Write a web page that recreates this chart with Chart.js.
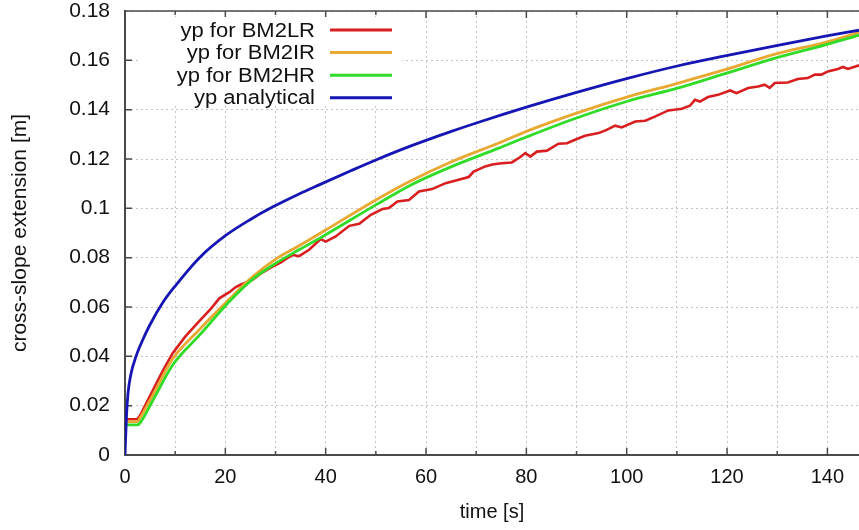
<!DOCTYPE html>
<html>
<head>
<meta charset="utf-8">
<script src="https://cdn.jsdelivr.net/npm/chart.js@4"></script>
<style>
  html, body { margin: 0; padding: 0; background: #fff; }
  #wrap { width: 859px; height: 530px; }
</style>
</head>
<body>
<div id="wrap"><canvas id="chart" width="859" height="530"></canvas></div>
<script>
// ============ DATA ============
const timeLR = [0, 2.5, 3, 5.6, 7.5, 9.5, 12, 14.9, 17, 18.8, 20.8, 22, 23, 25.4, 27, 29.4, 31, 32.1, 33.4, 34.7,
    36.7, 39, 40, 42, 44.7, 46.7, 49, 51.3, 52.6, 54.3, 56.6, 58.6, 61.2, 63.9, 66.5, 68.5, 69.5, 71.8, 73.2, 75.1,
    77.1, 78.8, 79.8, 80.8, 82.1, 84.1, 86.4, 88.1, 89.7, 91.7, 94.4, 96, 97.7, 99, 101.7, 103.7, 105.6, 108.3, 110.3, 111,
    112.6, 113.6, 114.6, 116.2, 118.2, 120.6, 121.9, 124.2, 126.2, 127.5, 128.5, 129.5, 132.1, 134.1, 136.1, 137.5, 138.8, 140.1, 142.1, 143.1,
    144.1, 146.3];
const yLR = [0.0145, 0.0146, 0.016, 0.0264, 0.034, 0.0413, 0.048, 0.0545, 0.059, 0.0635, 0.066, 0.068, 0.069, 0.071, 0.0735, 0.0764, 0.078, 0.0795, 0.0811, 0.0806,
    0.0832, 0.0875, 0.0865, 0.0886, 0.0929, 0.0937, 0.0974, 0.0997, 0.1001, 0.1028, 0.1034, 0.1068, 0.1078, 0.1102, 0.1116, 0.1127, 0.1149, 0.117, 0.1178, 0.1183,
    0.1186, 0.1208, 0.1224, 0.121, 0.123, 0.1234, 0.1262, 0.1264, 0.1278, 0.1294, 0.1305, 0.1318, 0.1335, 0.1328, 0.1352, 0.1355, 0.1372, 0.1397, 0.1402, 0.1404,
    0.1416, 0.144, 0.1433, 0.1451, 0.146, 0.1478, 0.1467, 0.1488, 0.1494, 0.1501, 0.1488, 0.1508, 0.151, 0.1524, 0.1528, 0.1542, 0.1542, 0.1555, 0.1565, 0.1573,
    0.1565, 0.158];

const timeIR = [0, 2.5, 3, 5.6, 9.5, 14.9, 20.8, 25.4, 30.1, 34.7, 40, 50, 57, 65.2, 74.5, 80, 90, 100, 110.3, 119.6, 129.6, 139.6, 146.3];
const yIR = [0.0135, 0.0135, 0.015, 0.0245, 0.039, 0.051, 0.0632, 0.0722, 0.0795, 0.0848, 0.0912, 0.1034, 0.1112, 0.119, 0.1265, 0.1312, 0.1386, 0.1451, 0.1508, 0.1562, 0.1625, 0.1673, 0.1713];

const timeHR = [0, 2.5, 3, 5.6, 9.5, 14.9, 20.8, 25.4, 30.1, 34.7, 40, 50, 57, 65.2, 74.5, 80, 90, 100, 110.3, 119.6, 129.6, 139.6, 146.3];
const yHR = [0.0122, 0.0122, 0.013, 0.0223, 0.0365, 0.0487, 0.0622, 0.0712, 0.0778, 0.0832, 0.0893, 0.1014, 0.1095, 0.117, 0.1244, 0.1289, 0.1366, 0.1433, 0.1488, 0.1546, 0.1609, 0.1663, 0.1702];

const timeAn = [0, 0.3, 0.6, 1.1, 2.3, 3.5, 4.9, 7.6, 10, 14.85, 20.2, 25, 29.4, 34.7, 38.7, 45, 50, 57, 65.2, 70.5, 80, 90, 100, 110.3, 119.6, 129.6, 139.6, 146.3];
const yAn = [0, 0.016, 0.025, 0.032, 0.0406, 0.0465, 0.0525, 0.062, 0.0685, 0.080, 0.0892, 0.0955, 0.1005, 0.1058, 0.1095, 0.1152, 0.1196, 0.1253, 0.1313, 0.1349, 0.141, 0.147, 0.1526, 0.1578, 0.1618, 0.1659, 0.1698, 0.1722];

const seriesNames = ["yp for BM2LR", "yp for BM2IR", "yp for BM2HR", "yp analytical"];
const seriesColors = ["#d81e1e", "#e8a832", "#30dc28", "#1616b4"];

const xMin = 0, xMax = 146.3, xStep = 10, xLabelStep = 20;
const yMin = 0, yMax = 0.18, yStep = 0.02;

const FONT = "'Liberation Sans', Arial, Helvetica, sans-serif";

function zip(ts, ys) {
    return ts.map((t, i) => ({ x: t, y: ys[i] }));
}

const isMultiple = (v, step) => Math.abs(v / step - Math.round(v / step)) < 1e-6;

// ============ FRAME + INWARD TICKS (gnuplot look) ============
const frameTicks = {
    id: "frameTicks",
    beforeDatasetsDraw(chart) {
        const { ctx, chartArea: a, scales: { x, y } } = chart;
        ctx.save();
        ctx.strokeStyle = "#4a4a4a";
        ctx.lineWidth = 1.5;
        ctx.beginPath();
        // top border
        ctx.moveTo(a.left, a.top);
        ctx.lineTo(a.right, a.top);
        // x ticks, bottom and top
        for (let i = 0; i * xStep <= xMax; i++) {
            const v = i * xStep;
            const px = x.getPixelForValue(v);
            const len = isMultiple(v, xLabelStep) ? 7 : 4;
            ctx.moveTo(px, a.bottom);
            ctx.lineTo(px, a.bottom - len);
            ctx.moveTo(px, a.top);
            ctx.lineTo(px, a.top + len);
        }
        // y ticks on the left
        for (let i = 0; i * yStep <= yMax + 1e-9; i++) {
            const py = y.getPixelForValue(i * yStep);
            ctx.moveTo(a.left, py);
            ctx.lineTo(a.left + 7, py);
        }
        ctx.stroke();
        ctx.restore();
    },
    afterDatasetsDraw(chart) {
        // opaque key box with right-aligned labels and line samples
        const { ctx } = chart;
        ctx.save();
        ctx.fillStyle = "#fff";
        ctx.fillRect(140, 17, 262, 88);
        ctx.font = "20px " + FONT;
        ctx.textAlign = "right";
        ctx.textBaseline = "middle";
        seriesNames.forEach((name, i) => {
            const yy = 30 + i * 22.6;
            ctx.save();
            ctx.translate(315, yy + 1);
            ctx.scale(1.1, 1);
            ctx.fillStyle = "#111";
            ctx.fillText(name, 0, 0);
            ctx.restore();
            ctx.strokeStyle = seriesColors[i];
            ctx.lineWidth = 3;
            ctx.beginPath();
            ctx.moveTo(330, yy);
            ctx.lineTo(392, yy);
            ctx.stroke();
        });
        ctx.restore();
    }
};

const ctx = document.getElementById("chart").getContext("2d");

new Chart(ctx, {
    type: "line",
    data: {
        datasets: [
            { label: seriesNames[0], data: zip(timeLR, yLR), borderColor: seriesColors[0], borderWidth: 2.6, tension: 0, order: 3 },
            { label: seriesNames[1], data: zip(timeIR, yIR), borderColor: seriesColors[1], borderWidth: 2.8, cubicInterpolationMode: "monotone", order: 2 },
            { label: seriesNames[2], data: zip(timeHR, yHR), borderColor: seriesColors[2], borderWidth: 2.8, cubicInterpolationMode: "monotone", order: 1 },
            { label: seriesNames[3], data: zip(timeAn, yAn), borderColor: seriesColors[3], borderWidth: 2.8, cubicInterpolationMode: "monotone", order: 0 }
        ]
    },
    options: {
        responsive: false,
        animation: false,
        layout: { padding: { top: 11, right: 0, bottom: 0, left: 0 } },
        elements: { point: { radius: 0 }, line: { fill: false } },
        plugins: { legend: { display: false }, tooltip: { enabled: false } },
        scales: {
            x: {
                type: "linear",
                min: xMin,
                max: xMax,
                afterFit: s => { s.height = 75; s.paddingLeft = 0; s.paddingRight = 0; },
                // fixed tick list: every 10 s up to 140
                afterBuildTicks: s => {
                    const list = [];
                    for (let i = 0; i * xStep <= xMax; i++) list.push({ value: i * xStep });
                    s.ticks = list;
                },
                ticks: {
                    autoSkip: false,
                    maxRotation: 0,
                    padding: 10,
                    color: "#111",
                    font: { family: FONT, size: 20 },
                    callback: v => (isMultiple(v, xLabelStep) ? String(Math.round(v)) : "")
                },
                grid: { color: "#c4c4c4", lineWidth: 1, drawTicks: false },
                border: { color: "#4a4a4a", width: 2, dash: [2, 3] },
                title: { display: true, text: "time [s]", color: "#111", font: { family: FONT, size: 20 }, padding: { top: 8, bottom: 6 } }
            },
            y: {
                min: yMin,
                max: yMax,
                afterFit: s => { s.width = 125; s.paddingTop = 0; s.paddingBottom = 0; },
                ticks: {
                    stepSize: yStep,
                    padding: 15,
                    color: "#111",
                    font: { family: FONT, size: 21 },
                    callback: v => String(+v.toFixed(2))
                },
                grid: { color: "#c4c4c4", lineWidth: 1, drawTicks: false },
                border: { color: "#4a4a4a", width: 2, dash: [2, 3] },
                title: { display: true, text: "cross-slope extension [m]", color: "#111", font: { family: FONT, size: 21 }, padding: { top: 8, bottom: 0 } }
            }
        }
    },
    plugins: [frameTicks]
});
</script>
</body>
</html>
